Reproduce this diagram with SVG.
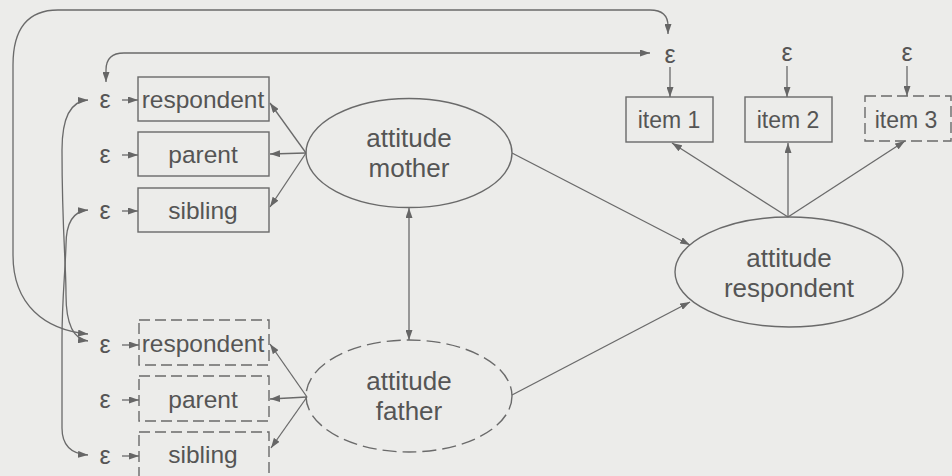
<svg xmlns="http://www.w3.org/2000/svg" width="952" height="476" viewBox="0 0 952 476">
<style>
.bg{fill:#ececea}
.box{fill:none;stroke:#6a6a6a;stroke-width:1.4}
.dash{stroke-dasharray:11 5}
.edash{stroke-dasharray:14 6}
.t{font-family:"Liberation Sans",Arial,sans-serif;fill:#555;text-anchor:middle}
.tb{font-size:24.5px}
.te{font-size:26px}
.ti{font-size:23px}
.eps{font-family:"Liberation Sans",Arial,sans-serif;fill:#555;font-size:25px;text-anchor:middle}
.c{fill:none;stroke:#6a6a6a;stroke-width:1.3}
.a{marker-end:url(#ah)}
.aa{marker-start:url(#ah);marker-end:url(#ah)}
</style>
<defs>
<marker id="ah" viewBox="0 0 10 7" refX="10" refY="3.5" markerWidth="10" markerHeight="7" markerUnits="userSpaceOnUse" orient="auto-start-reverse">
<path d="M0,0 L10,3.5 L0,7 z" fill="#666"/>
</marker>
</defs>
<rect class="bg" x="0" y="0" width="952" height="476"/>

<g id="mother-respondent"><rect class="box" x="138" y="77" width="131" height="44"/><text class="t tb" x="203" y="108">respondent</text></g>
<g id="mother-parent"><rect class="box" x="138" y="132" width="131" height="44"/><text class="t tb" x="203" y="163">parent</text></g>
<g id="mother-sibling"><rect class="box" x="138" y="188" width="131" height="44"/><text class="t tb" x="203" y="219">sibling</text></g>

<g id="father-respondent"><rect class="box dash" x="139" y="320" width="130" height="45"/><text class="t tb" x="203" y="352">respondent</text></g>
<g id="father-parent"><rect class="box dash" x="139" y="376" width="130" height="45"/><text class="t tb" x="203" y="408">parent</text></g>
<g id="father-sibling"><rect class="box dash" x="139" y="432" width="130" height="45"/><text class="t tb" x="203" y="463">sibling</text></g>

<g id="item1"><rect class="box" x="626" y="97" width="87" height="45"/><text class="t ti" x="669" y="128">item 1</text></g>
<g id="item2"><rect class="box" x="745" y="97" width="87" height="45"/><text class="t ti" x="788" y="128">item 2</text></g>
<g id="item3"><rect class="box dash" x="865" y="96" width="86" height="45"/><text class="t ti" x="906" y="128">item 3</text></g>

<g id="attitude-mother"><ellipse class="box" cx="409" cy="153" rx="103" ry="54.5"/><text class="t te" x="409" y="147">attitude</text><text class="t te" x="409" y="177">mother</text></g>
<g id="attitude-father"><ellipse class="box edash" cx="409" cy="396" rx="103" ry="56"/><text class="t te" x="409" y="390">attitude</text><text class="t te" x="409" y="420">father</text></g>
<g id="attitude-respondent"><ellipse class="box" cx="789" cy="272" rx="114" ry="55"/><text class="t te" x="789" y="267">attitude</text><text class="t te" x="789" y="297">respondent</text></g>

<g id="errors">
<text class="eps" x="105" y="108">ε</text>
<text class="eps" x="105" y="163">ε</text>
<text class="eps" x="105" y="219">ε</text>
<text class="eps" x="105" y="353">ε</text>
<text class="eps" x="105" y="408">ε</text>
<text class="eps" x="105" y="464">ε</text>
<text class="eps" x="670" y="63">ε</text>
<text class="eps" x="787" y="61">ε</text>
<text class="eps" x="907" y="61">ε</text>
</g>

<g id="connectors">
<line class="c a" x1="122" y1="100" x2="138" y2="100"/>
<line class="c a" x1="122" y1="155" x2="138" y2="155"/>
<line class="c a" x1="122" y1="211" x2="138" y2="211"/>
<line class="c a" x1="122" y1="345" x2="139" y2="345"/>
<line class="c a" x1="122" y1="400" x2="139" y2="400"/>
<line class="c a" x1="122" y1="456" x2="139" y2="456"/>
<line class="c a" x1="670" y1="67" x2="670" y2="97"/>
<line class="c a" x1="787" y1="66" x2="787" y2="97"/>
<line class="c a" x1="907" y1="66" x2="907" y2="96"/>

<line class="c a" x1="306" y1="153" x2="270" y2="103"/>
<line class="c a" x1="306" y1="153" x2="270" y2="154"/>
<line class="c a" x1="306" y1="153" x2="270" y2="207"/>
<line class="c a" x1="307" y1="397" x2="270" y2="344"/>
<line class="c a" x1="307" y1="397" x2="270" y2="399"/>
<line class="c a" x1="307" y1="397" x2="271" y2="448"/>

<line class="c aa" x1="409" y1="208" x2="409" y2="340"/>
<line class="c a" x1="512" y1="153" x2="690" y2="245"/>
<line class="c a" x1="512" y1="395" x2="690" y2="302"/>

<line class="c a" x1="788" y1="217" x2="672" y2="143"/>
<line class="c a" x1="788" y1="217" x2="788" y2="143"/>
<line class="c a" x1="788" y1="217" x2="905" y2="141"/>

<path class="c aa" d="M106,82 L106,70 Q106,53 124,53 L650,53"/>
<path class="c aa" d="M88,334 C45,330 13,305 13,255 L13,65 Q13,10 58,10 L650,10 Q668,10 668,26 L668,34"/>
<path class="c aa" d="M88,100 C70,101 62,118 62,150 C62,230 66,262 66,295 C66,322 72,339 88,341"/>
<path class="c aa" d="M88,210 C74,211 66,222 66,245 C65,275 62,300 62,340 L62,428 C62,446 72,454 88,455"/>
</g>
</svg>
